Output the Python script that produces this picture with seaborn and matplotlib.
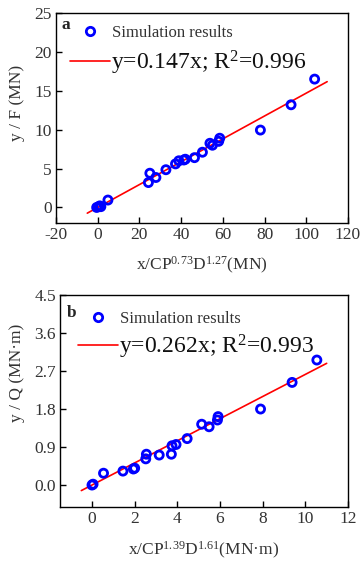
import matplotlib
matplotlib.use("Agg")
import matplotlib.pyplot as plt
import seaborn as sns
import numpy as np
import pandas as pd
from matplotlib.lines import Line2D

# Panel a data
xa = [-0.5, 0.5, 1.0, 1.5, 4.9, 24.3, 25.0, 27.9, 32.7, 37.3, 38.9, 41.3, 42.0, 46.4, 50.2, 53.8, 55.0, 58.0, 58.5, 78.0, 92.7, 104.0]
ya = [0.0, 0.1, 0.2, 0.1, 0.95, 3.2, 4.4, 3.85, 4.85, 5.6, 6.0, 6.1, 6.2, 6.4, 7.1, 8.25, 8.0, 8.5, 8.9, 9.95, 13.2, 16.5]
slope_a = 0.147
fit_xa = [-5, 110]

# Panel b data
xb = [0.0, 0.05, 0.54, 1.45, 1.94, 2.0, 2.52, 2.55, 3.15, 3.72, 3.75, 3.94, 4.46, 5.14, 5.49, 5.88, 5.91, 7.9, 9.38, 10.54]
yb = [0.0, 0.02, 0.28, 0.33, 0.38, 0.40, 0.62, 0.73, 0.71, 0.73, 0.93, 0.96, 1.10, 1.44, 1.38, 1.54, 1.62, 1.80, 2.43, 2.96]
slope_b = 0.262
fit_xb = [-0.5, 11]

sns.set_theme(style="ticks")
plt.rcParams['font.family'] = ['Liberation Serif', 'DejaVu Serif']
plt.rcParams['mathtext.fontset'] = 'custom'
plt.rcParams['mathtext.rm'] = 'Liberation Serif'
plt.rcParams['mathtext.it'] = 'Liberation Serif:italic'
plt.rcParams['mathtext.bf'] = 'Liberation Serif:bold'

W, H = 364, 561
fig = plt.figure(figsize=(W / 100, H / 100), dpi=100)

def box(l, t, r, b):
    return [l / W, 1 - b / H, (r - l) / W, (b - t) / H]

axa = fig.add_axes(box(56, 13, 348, 223))
axb = fig.add_axes(box(60, 295, 348, 507))

txtcol = '#333333'

def panel(ax, x, y, slope, fx, letter, letter_xy, eq, xlabel, ylabel, xlim, ylim,
          xticks, yticks, yfmt, ylab_xy, xlab_y, leg1_xy, leg2_xy):
    df = pd.DataFrame({'x': x, 'y': y})
    fx = np.array(fx, dtype=float)
    dfl = pd.DataFrame({'x': fx, 'y': slope * fx})
    sns.lineplot(data=dfl, x='x', y='y', ax=ax, color='red', lw=1.2, zorder=2)
    sns.scatterplot(data=df, x='x', y='y', ax=ax, marker='o', s=34,
                    facecolors='none', edgecolor='blue', linewidth=2.0, zorder=3)
    ax.set_xlim(*xlim)
    ax.set_ylim(*ylim)
    ax.set_xticks(xticks)
    ax.set_yticks(yticks)
    ax.set_yticklabels([yfmt.format(v) for v in yticks])
    ax.set_xticklabels([str(v) for v in xticks])
    ax.tick_params(direction='in', length=4, width=1, labelsize=12.5, pad=3,
                   colors='black', labelcolor=txtcol)
    for s in ax.spines.values():
        s.set_linewidth(1.0)
        s.set_color('black')
    ax.set_xlabel(xlabel, fontsize=12.5, color=txtcol)
    ax.set_ylabel(ylabel, fontsize=12.5, color=txtcol)
    ax.yaxis.set_label_coords(*ylab_xy)
    ax.yaxis.label.set_va('center')
    ax.xaxis.set_label_coords(0.5, xlab_y)
    ax.xaxis.label.set_va('center')
    ax.text(letter_xy[0], letter_xy[1], letter, transform=ax.transAxes, fontsize=12.5,
            fontweight='bold', va='baseline', ha='left')
    h1 = Line2D([], [], ls='none', marker='o', mfc='none', mec='blue', mew=2.0, ms=6)
    h2 = Line2D([], [], color='red', lw=1.2)
    leg1 = ax.legend([h1], ['Simulation results'], loc='center left',
                     bbox_to_anchor=leg1_xy, bbox_transform=fig.transFigure,
                     frameon=False, fontsize=12, handlelength=2.35, handletextpad=0.15,
                     borderpad=0, borderaxespad=0)
    for t in leg1.get_texts():
        t.set_color(txtcol)
    ax.add_artist(leg1)
    leg2 = ax.legend([h2], [eq], loc='center left',
                     bbox_to_anchor=leg2_xy, bbox_transform=fig.transFigure,
                     frameon=False, fontsize=17, handlelength=1.7, handletextpad=0.05,
                     borderpad=0, borderaxespad=0)
    for t in leg2.get_texts():
        t.set_color('#111111')

panel(axa, xa, ya, slope_a, fit_xa, 'a', (0.02, 0.924), 'y=0.147x; R$^2$=0.996',
      'x/CP$^{0.73}$D$^{1.27}$(MN)', 'y / F (MN)',
      (-20, 120), (-2, 25), [-20, 0, 20, 40, 60, 80, 100, 120], [0, 5, 10, 15, 20, 25], '{:.0f}',
      (-0.134, 0.574), -42 / 210, (70 / W, 1 - 33 / H), (70 / W, 1 - 63 / H))
panel(axb, xb, yb, slope_b, fit_xb, 'b', (0.024, 0.896), 'y=0.262x; R$^2$=0.993',
      'x/CP$^{1.39}$D$^{1.61}$(MN·m)', 'y / Q (MN·m)',
      (-1.5, 12), (-0.52, 4.5), [0, 2, 4, 6, 8, 10, 12], [0.0, 0.9, 1.8, 2.7, 3.6, 4.5], '{:.1f}',
      (-0.149, 0.632), -43 / 212, (78 / W, 1 - 319 / H), (78 / W, 1 - 347 / H))

fig.savefig('out.png', dpi=100)
